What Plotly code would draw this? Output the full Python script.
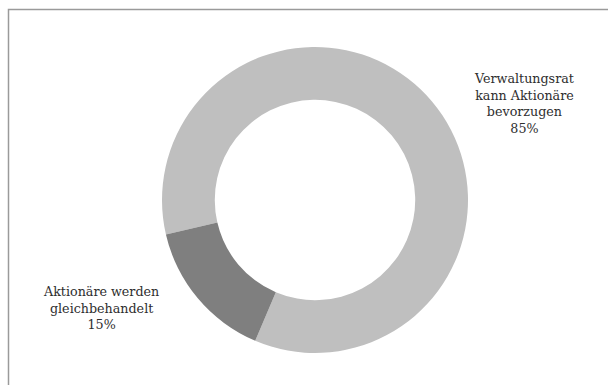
import plotly.graph_objects as go

# Shares of the two answers
labels = ["Verwaltungsrat<br>kann Aktionäre<br>bevorzugen", "Aktionäre werden<br>gleichbehandelt"]
values = [85, 15]
colors = ["#bfbfbf", "#7f7f7f"]

W, H = 608, 385
cx, cy, r = 315, 200, 153  # donut centre and radius in pixels

fig = go.Figure(
    go.Pie(
        labels=labels,
        values=values,
        hole=0.655,
        sort=False,
        direction="clockwise",
        rotation=-103,
        marker=dict(colors=colors, line=dict(width=0)),
        textinfo="none",
        hoverinfo="label+percent",
        domain=dict(
            x=[(cx - r) / W, (cx + r) / W],
            y=[(H - cy - r) / H, (H - cy + r) / H],
        ),
    )
)

total = sum(values)
label_pos = [(524, 104), (101, 308)]  # label centres in pixels
annotations = []
for lab, val, (lx, ly) in zip(labels, values, label_pos):
    annotations.append(
        dict(
            text=f"{lab}<br>{round(100 * val / total)}%",
            x=lx / W,
            y=1 - ly / H,
            xref="paper",
            yref="paper",
            xanchor="center",
            yanchor="middle",
            showarrow=False,
            align="center",
            font=dict(family="DejaVu Serif", size=12.7, color="#2e2e2e"),
        )
    )

fig.update_layout(
    width=W,
    height=H,
    margin=dict(l=0, r=0, t=0, b=0),
    paper_bgcolor="white",
    plot_bgcolor="white",
    showlegend=False,
    annotations=annotations,
    shapes=[
        dict(
            type="rect",
            xref="paper",
            yref="paper",
            x0=8.5 / W,
            x1=1.05,
            y0=-0.05,
            y1=1 - 9.5 / H,
            line=dict(color="#9a9a9a", width=1.5),
            fillcolor="rgba(0,0,0,0)",
        )
    ],
)

fig.write_html("out.html")
